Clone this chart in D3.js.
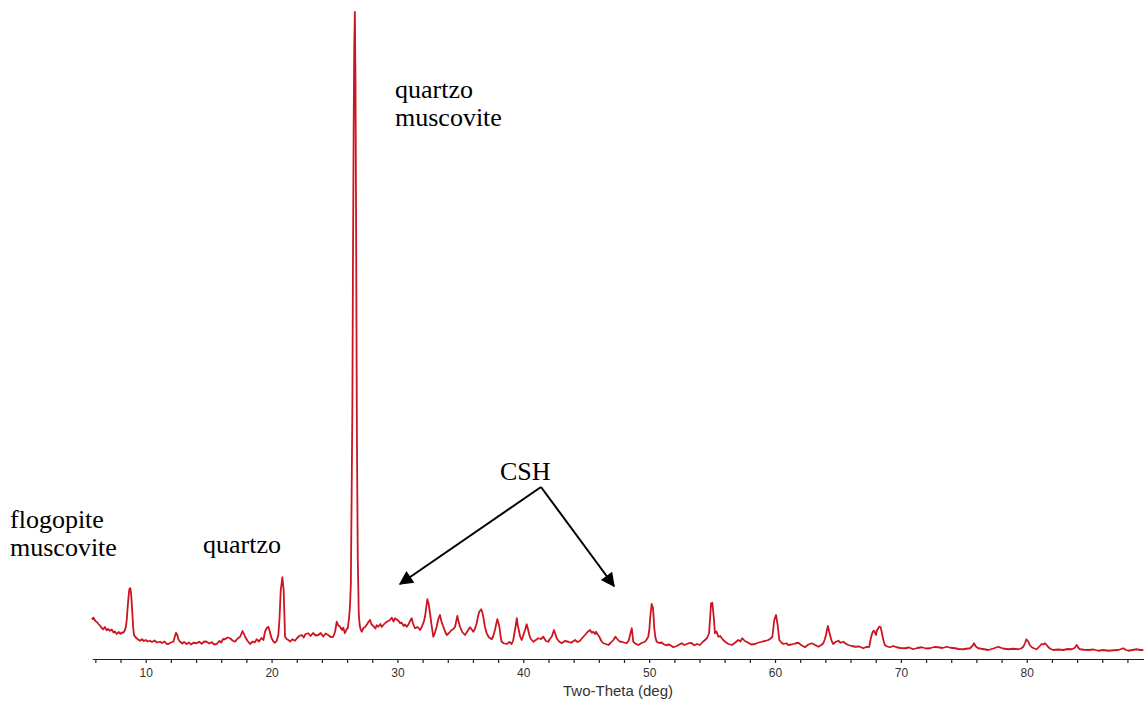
<!DOCTYPE html>
<html>
<head>
<meta charset="utf-8">
<script src="https://cdn.jsdelivr.net/npm/d3@7/dist/d3.min.js"></script>
<style>
  html, body { margin: 0; padding: 0; background: #ffffff; }
  svg { display: block; }
</style>
</head>
<body>
<svg id="chart" width="1144" height="704"></svg>
<script>
const twoTheta = [5.71,5.85,6.0,6.1,6.25,6.4,6.5,6.63,6.75,6.9,7.0,7.16,7.3,7.45,7.55,7.7,7.85,8.0,8.12,8.22,8.35,8.43,8.5,8.57,8.65,8.7,8.78,8.83,8.86,8.94,9.0,9.07,9.18,9.28,9.4,9.55,9.7,9.85,10.0,10.15,10.34,10.5,10.7,10.9,11.14,11.3,11.5,11.65,11.8,12.0,12.2,12.32,12.41,12.51,12.6,12.73,12.9,13.05,13.26,13.45,13.6,13.8,14.05,14.25,14.45,14.65,14.85,15.05,15.25,15.45,15.64,15.85,16.0,16.15,16.3,16.5,16.7,16.9,17.1,17.3,17.5,17.7,17.9,18.1,18.29,18.5,18.65,18.82,19.0,19.2,19.35,19.48,19.6,19.74,19.85,20.0,20.15,20.27,20.4,20.54,20.63,20.73,20.86,20.96,21.02,21.07,21.2,21.33,21.5,21.65,21.86,22.0,22.2,22.4,22.55,22.7,22.92,23.1,23.3,23.5,23.72,23.9,24.1,24.3,24.5,24.7,24.9,25.05,25.18,25.3,25.44,25.6,25.7,25.83,25.95,26.05,26.15,26.23,26.3,26.37,26.42,26.47,26.52,26.57,26.62,26.67,26.72,26.78,26.85,26.93,27.0,27.08,27.16,27.3,27.42,27.6,27.72,27.82,27.95,28.08,28.25,28.35,28.48,28.65,28.75,28.88,29.05,29.2,29.41,29.55,29.7,29.81,29.95,30.1,30.2,30.34,30.5,30.6,30.74,30.9,31.0,31.13,31.25,31.4,31.6,31.8,31.95,32.1,32.19,32.3,32.38,32.48,32.59,32.7,32.85,32.95,33.12,33.25,33.38,33.5,33.65,33.8,33.92,34.1,34.31,34.45,34.58,34.67,34.76,34.85,34.97,35.15,35.37,35.55,35.77,35.9,36.03,36.15,36.3,36.4,36.5,36.66,36.75,36.82,36.95,37.09,37.25,37.49,37.6,37.75,37.85,37.94,38.02,38.1,38.2,38.28,38.45,38.68,38.9,39.08,39.2,39.34,39.42,39.48,39.56,39.64,39.75,39.87,40.0,40.14,40.27,40.38,40.48,40.6,40.8,41.0,41.19,41.4,41.59,41.8,41.99,42.1,42.26,42.44,42.55,42.65,42.85,43.05,43.3,43.58,43.8,44.11,44.3,44.51,44.7,44.9,45.1,45.3,45.45,45.56,45.7,45.78,45.9,46.04,46.2,46.36,46.55,46.76,46.95,47.16,47.32,47.5,47.65,47.82,48.0,48.22,48.38,48.48,48.62,48.74,48.9,49.14,49.4,49.67,49.8,49.93,50.02,50.09,50.2,50.31,50.41,50.5,50.6,50.8,51.0,51.13,51.35,51.6,51.92,52.2,52.4,52.59,52.8,53.0,53.2,53.38,53.6,53.8,54.04,54.25,54.44,54.6,54.76,54.85,54.92,55.02,55.13,55.23,55.35,55.5,55.65,55.77,55.9,56.04,56.3,56.57,56.8,57.08,57.25,57.4,57.6,57.88,58.1,58.41,58.7,58.94,59.2,59.47,59.65,59.79,59.94,60.08,60.21,60.34,60.5,60.66,60.9,61.06,61.3,61.6,61.85,62.1,62.38,62.65,62.92,63.2,63.44,63.65,63.84,63.95,64.05,64.13,64.21,64.3,64.37,64.5,64.63,64.8,65.03,65.2,65.43,65.6,65.82,66.1,66.35,66.7,67.01,67.25,67.49,67.6,67.68,67.78,67.86,67.95,68.02,68.1,68.2,68.3,68.39,68.47,68.55,68.65,68.73,68.9,69.13,69.4,69.66,69.95,70.32,70.65,70.98,71.3,71.65,72.0,72.31,72.65,72.97,73.3,73.64,73.95,74.3,74.6,74.96,75.2,75.49,75.68,75.81,75.95,76.15,76.5,76.95,77.35,77.74,78.1,78.54,78.9,79.33,79.55,79.73,79.88,79.97,80.05,80.13,80.25,80.4,80.6,80.79,81.0,81.19,81.32,81.45,81.6,81.72,81.9,82.11,82.5,82.91,83.25,83.57,83.8,83.97,84.1,84.23,84.55,84.89,85.3,85.68,86.1,86.48,86.9,87.27,87.5,87.67,87.85,88.07,88.4,88.73,89.0,89.26];
const intensity = [159,165,152,149,140,132,124,119,128,115,120,113,118,106,110,100,108,101,106,105,115,129,160,209,255,279,283,265,249,183,130,96,88,83,78,73,79,72,76,70,73,68,74,66,69,64,70,61,60,66,69,90,105,96,78,69,62,68,60,66,58,65,63,69,61,70,69,62,67,58,60,72,66,80,79,86,83,74,69,82,89,112,89,72,60,70,66,79,70,84,76,109,122,129,112,83,70,65,72,96,160,276,327,276,180,89,80,76,70,79,73,82,92,96,86,100,103,92,104,94,96,104,90,102,96,88,89,110,149,135,129,116,125,103,118,123,160,209,300,700,1000,1600,2100,2450,2588,2300,1700,900,400,180,136,118,109,124,127,140,150,156,138,132,122,135,129,140,128,136,145,150,156,165,150,163,158,152,144,145,132,138,129,140,152,163,140,123,128,116,130,150,169,210,239,220,183,140,89,100,129,160,176,150,129,108,96,104,116,120,129,150,172,152,129,108,96,110,127,118,109,120,143,170,189,199,185,169,130,103,88,79,90,116,140,159,145,129,90,69,63,60,68,60,75,116,140,163,135,116,90,76,95,116,139,118,96,80,69,76,83,80,89,72,69,80,89,116,100,83,70,63,72,69,65,76,68,73,85,96,108,116,105,109,100,109,98,89,72,63,60,56,65,76,89,78,70,69,66,63,75,96,123,69,62,56,64,69,78,89,120,169,220,203,123,85,69,64,66,60,55,58,47,52,58,63,56,60,64,63,55,60,56,68,76,84,103,170,223,225,169,103,110,89,92,83,75,69,60,56,64,76,70,83,72,65,58,60,66,69,72,76,82,89,156,176,136,76,66,60,63,56,58,62,65,55,47,58,63,56,49,55,63,78,96,118,132,110,96,72,60,68,73,65,69,62,56,52,49,50,43,48,49,80,96,110,113,105,96,115,123,130,127,110,89,68,56,50,47,52,47,44,43,46,39,44,47,42,43,48,47,44,49,45,43,40,39,41,43,52,63,50,43,40,36,42,49,42,39,41,39,42,49,66,79,74,69,55,47,42,39,50,60,58,63,55,47,40,36,38,36,40,39,44,56,45,39,37,36,38,33,36,33,35,36,40,43,37,33,36,39,36,36];
const tickValues = [6,8,10,12,14,16,18,20,22,24,26,28,30,32,34,36,38,40,42,44,46,48,50,52,54,56,58,60,62,64,66,68,70,72,74,76,78,80,82,84,86,88];
const tickLabels = [10,20,30,40,50,60,70,80];
const xTitle = "Two-Theta (deg)";
const annotations = [
  {lines: ["quartzo", "muscovite"], x: 395, y: 98},
  {lines: ["flogopite", "muscovite"], x: 10, y: 528},
  {lines: ["quartzo"], x: 203, y: 553},
  {lines: ["CSH"], x: 500, y: 480}
];

const points = twoTheta.map((d, i) => ({x: d, y: intensity[i]}));

const svg = d3.select("#chart");
const x = d3.scaleLinear().domain([5.75, 89.3]).range([92.2, 1143.8]);
const y = d3.scaleLinear().domain([0, 2588]).range([659, 12]);

// trace
svg.append("path")
  .datum(points)
  .attr("fill", "none")
  .attr("stroke", "#cc1520")
  .attr("stroke-width", 1.8)
  .attr("stroke-linejoin", "round")
  .attr("d", d3.line().x(d => x(d.x)).y(d => y(d.y)));

// axis
const axis = d3.axisBottom(x)
  .tickValues(tickValues)
  .tickSize(4)
  .tickSizeOuter(0)
  .tickFormat(d => tickLabels.includes(d) ? d : "");
const gAxis = svg.append("g").attr("transform", "translate(0,659)").call(axis);
gAxis.select(".domain").attr("stroke", "#222").attr("stroke-width", 1.2);
gAxis.selectAll(".tick line").attr("stroke", "#222").attr("stroke-width", 1.2);
gAxis.selectAll(".tick text")
  .attr("font-family", "Arial, 'Liberation Sans', sans-serif")
  .attr("font-size", 12)
  .attr("fill", "#333")
  .attr("dy", "0.95em");

svg.append("text")
  .attr("x", 618).attr("y", 696)
  .attr("text-anchor", "middle")
  .attr("font-family", "Arial, 'Liberation Sans', sans-serif")
  .attr("font-size", 15)
  .attr("fill", "#333")
  .text(xTitle);

// annotations
annotations.forEach(a => {
  const t = svg.append("text")
    .attr("x", a.x).attr("y", a.y)
    .attr("font-family", "'Times New Roman', 'Liberation Serif', serif")
    .attr("font-size", 26)
    .attr("fill", "#000");
  a.lines.forEach((l, i) => {
    t.append("tspan").attr("x", a.x).attr("dy", i === 0 ? 0 : 28).text(l);
  });
});

// arrows
svg.append("defs").append("marker")
  .attr("id", "ah")
  .attr("viewBox", "0 0 10 10")
  .attr("refX", 9).attr("refY", 5)
  .attr("markerWidth", 9).attr("markerHeight", 7)
  .attr("markerUnits", "strokeWidth")
  .attr("orient", "auto")
  .append("path").attr("d", "M0,0 L10,5 L0,10 Z").attr("fill", "#000");

const arrows = [
  {x1: 541, y1: 487, x2: 400, y2: 584},
  {x1: 541, y1: 487, x2: 614, y2: 586}
];
arrows.forEach(a => {
  svg.append("line")
    .attr("x1", a.x1).attr("y1", a.y1).attr("x2", a.x2).attr("y2", a.y2)
    .attr("stroke", "#000").attr("stroke-width", 2)
    .attr("marker-end", "url(#ah)");
});
</script>
</body>
</html>
